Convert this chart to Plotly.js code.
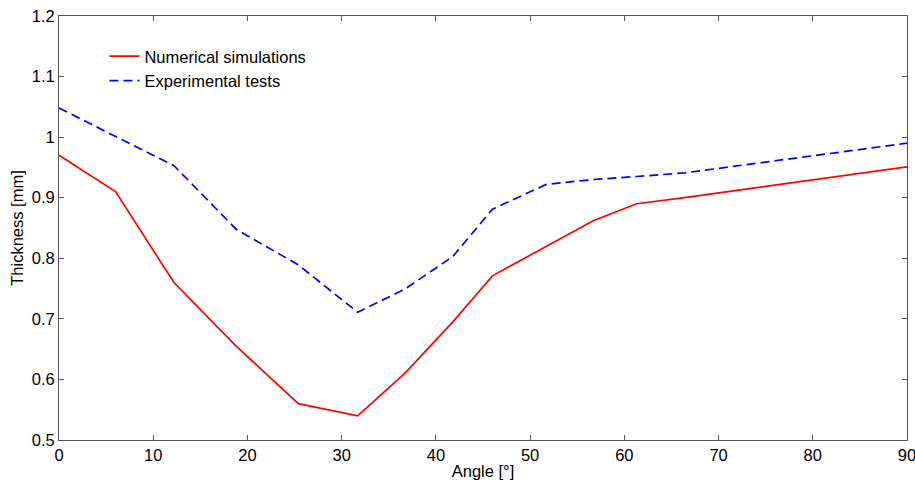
<!DOCTYPE html>
<html>
<head>
<meta charset="utf-8">
<script src="https://cdn.plot.ly/plotly-3.0.1.min.js"></script>
<style>html,body{margin:0;padding:0;background:#fff;}#chart{width:915px;height:483px;}</style>
</head>
<body>
<div id="chart"></div>
<script>
const angles = [0, 6, 12.2, 18.8, 25.4, 31.7, 36.7, 41.8, 46, 51.7, 56.7, 61.3, 66.4, 90];
const numerical = [0.97, 0.91, 0.76, 0.655, 0.56, 0.54, 0.61, 0.695, 0.771, 0.82, 0.862, 0.89, 0.90, 0.951];
const experimental = [1.048, 1.001, 0.953, 0.848, 0.789, 0.711, 0.749, 0.803, 0.881, 0.922, 0.93, 0.935, 0.941, 0.99];
const seriesNames = ["Numerical simulations", "Experimental tests"];

const font = {family: "Liberation Sans, Arial, sans-serif", size: 16.5, color: "#000"};
const traces = [
  {x: angles, y: numerical, name: seriesNames[0], mode: "lines", type: "scatter",
   line: {color: "#ff0000", width: 1.7}},
  {x: angles, y: experimental, name: seriesNames[1], mode: "lines", type: "scatter",
   line: {color: "#0000ff", width: 1.7, dash: "9px,5px"}}
];
const axisCommon = {
  showgrid: false, zeroline: false, showline: true, mirror: "ticks",
  linecolor: "#555", linewidth: 1, ticks: "inside", ticklen: 5, tickcolor: "#555",
  tickfont: font, ticklabeloverflow: "allow"
};
const layout = {
  width: 915, height: 483,
  margin: {l: 58.5, r: 8, t: 16, b: 43},
  paper_bgcolor: "#fff", plot_bgcolor: "#fff",
  font: font,
  showlegend: true,
  legend: {x: 0.0536, y: 0.946, xanchor: "left", yanchor: "top", bgcolor: "rgba(0,0,0,0)",
           borderwidth: 0, font: font, tracegroupgap: 0},
  xaxis: Object.assign({}, axisCommon, {range: [0, 90], tickvals: [0,10,20,30,40,50,60,70,80,90],
          title: {text: "Angle [°]", font: font, standoff: 2}}),
  yaxis: Object.assign({}, axisCommon, {range: [0.5, 1.2], tickvals: [0.5,0.6,0.7,0.8,0.9,1,1.1,1.2],
          ticktext: ["0.5","0.6","0.7","0.8","0.9","1","1.1","1.2"],
          title: {text: "Thickness [mm]", font: font, standoff: 3}})
};
Plotly.newPlot("chart", traces, layout, {displayModeBar: false, staticPlot: true});
</script>
</body>
</html>
